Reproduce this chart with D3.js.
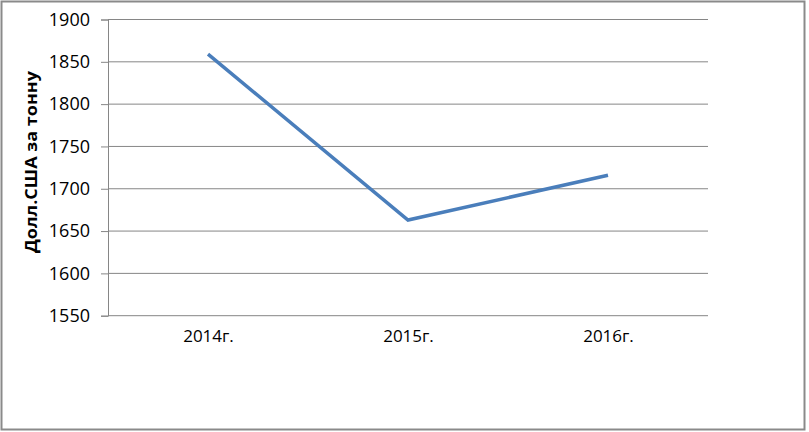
<!DOCTYPE html>
<html><head><meta charset="utf-8">
<script src="https://cdn.jsdelivr.net/npm/d3@7"></script>
<style>body{margin:0;background:#fff}svg{display:block}</style>
</head><body>
<svg id="c" width="809" height="432"></svg>
<script>
const categories = ["2014г.", "2015г.", "2016г."];
const values = [1859, 1663, 1716];
const yTicks = [1550, 1600, 1650, 1700, 1750, 1800, 1850, 1900];
const yTitle = "Долл.США за тонну";

(function () {
const svg = d3.select("#c");
const pL = 108, pR = 708, pT = 19.5, pB = 315.7;
const font = "'Open Sans', 'Liberation Sans', sans-serif";

svg.append("rect").attr("x", 1.5).attr("y", 1.5).attr("width", 803).attr("height", 428)
  .attr("fill", "#fff").attr("stroke", "#8a8a8a").attr("stroke-width", 2);

const x = d3.scalePoint().domain(categories).range([pL, pR]).padding(0.5);
const y = d3.scaleLinear().domain([1550, 1900]).range([pB, pT]);

// gridlines
svg.append("g").selectAll("line").data(yTicks.filter(t => t !== 1550)).join("line")
  .attr("x1", pL).attr("x2", pR).attr("y1", d => y(d)).attr("y2", d => y(d))
  .attr("stroke", "#868686").attr("stroke-width", 1);

// y axis
const ya = svg.append("g").attr("transform", `translate(${pL},0)`)
  .call(d3.axisLeft(y).tickValues(yTicks).tickSize(7).tickPadding(11).tickFormat(d3.format("d")));
ya.select(".domain").attr("stroke", "#868686");
ya.selectAll(".tick line").attr("stroke", "#868686");
ya.selectAll("text").attr("font-family", font).attr("font-size", 18).attr("fill", "#000");

// x axis
const xa = svg.append("g").attr("transform", `translate(0,${pB})`)
  .call(d3.axisBottom(x).tickSize(0).tickPadding(14));
xa.select(".domain").attr("stroke", "#868686").attr("d", `M${pL},0H${pR}`);
xa.selectAll("text").attr("font-family", font).attr("font-size", 17).attr("fill", "#000");

// line
svg.append("path").datum(values.map((v, i) => [categories[i], v]))
  .attr("fill", "none").attr("stroke", "#4a7ebb").attr("stroke-width", 3.5)
  .attr("d", d3.line().x(d => x(d[0])).y(d => y(d[1])));

// y title
svg.append("text").attr("transform", `translate(37,162) rotate(-90)`)
  .attr("text-anchor", "middle").attr("font-family", font).attr("font-weight", "bold")
  .attr("font-size", 15.5).attr("fill", "#000")
  .attr("textLength", 182).attr("lengthAdjust", "spacingAndGlyphs").text(yTitle);
})();
</script>
</body></html>
